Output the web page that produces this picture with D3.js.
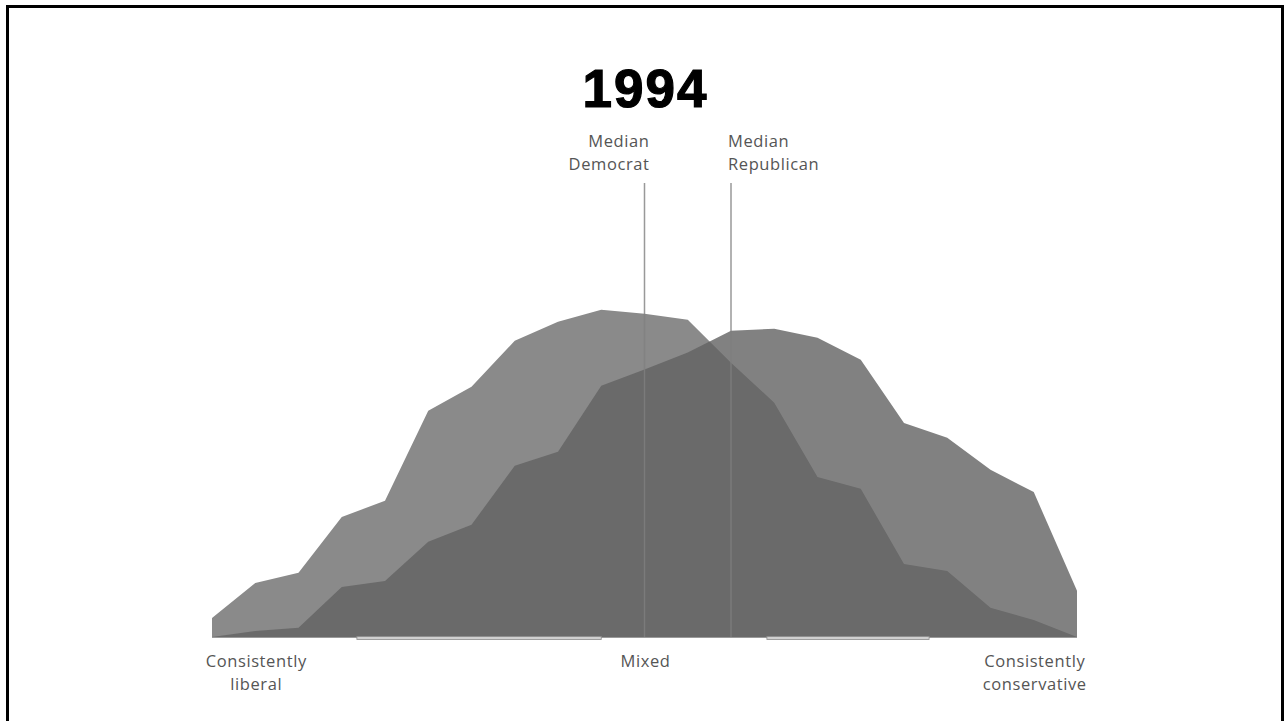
<!DOCTYPE html>
<html>
<head>
<meta charset="utf-8">
<script src="https://cdn.jsdelivr.net/npm/d3@7"></script>
<style>
  html, body { margin: 0; padding: 0; background: #fff; }
  svg { display: block; }
  .label { font-family: "Open Sans", "Liberation Sans", sans-serif; }
  .title { font-family: "Liberation Sans", Arial, sans-serif; font-weight: bold; }
</style>
</head>
<body>
<svg id="the-svg" width="1286" height="721"></svg>
<script>
// Ideological consistency scale, 21 steps from -10 (liberal) to +10 (conservative)
const SCALE_STEPS = d3.range(-10, 11);

// share of each party at each step (%)
const DEMOCRATS = [0.58, 1.65, 1.96, 3.67, 4.16, 6.91, 7.65, 9.05, 9.63, 10.0, 9.88,
                   9.69, 8.38, 7.16, 4.89, 4.53, 2.23, 2.02, 0.89, 0.52, 0];
const REPUBLICANS = [0, 0.18, 0.28, 1.53, 1.71, 2.91, 3.43, 5.23, 5.66, 7.68, 8.17,
                     8.69, 9.36, 9.42, 9.14, 8.47, 6.54, 6.09, 5.11, 4.43, 1.41];

// medians on the same scale
const MEDIAN_DEM = 0;
const MEDIAN_REP = 2;

// bracket ranges under the axis
const RANGES = [[-6.65, -1.0], [2.83, 6.58]];

const YEAR = '1994';

const AXIS_LABELS = [
  { at: -9, lines: ['Consistently', 'liberal'] },
  { at: 0, lines: ['Mixed'] },
  { at: 9, lines: ['Consistently', 'conservative'] }
];

window.addEventListener('load', plot);

function plot() {
  const svg = d3.select('#the-svg');

  const x = d3.scaleLinear().domain([-10, 10]).range([212, 1077]);
  const y = d3.scaleLinear().domain([0, 11]).range([637, 277]);

  //////////////////
  // Frame border //
  //////////////////

  svg.append('path')
    .attr('d', 'M7.5,730 V6.5 H1282.5 V730')
    .attr('fill', 'none')
    .attr('stroke', '#000')
    .attr('stroke-width', 3);

  ///////////
  // Areas //
  ///////////

  const area = d3.area()
    .x((d, i) => x(SCALE_STEPS[i]))
    .y0(y(0))
    .y1(d => y(d));

  svg.append('path')
    .datum(DEMOCRATS)
    .attr('d', area)
    .attr('fill', '#8a8a8a');

  svg.append('path')
    .datum(REPUBLICANS)
    .attr('d', area)
    .attr('fill', '#616161')
    .attr('fill-opacity', 0.8);

  //////////
  // Axis //
  //////////

  svg.append('line')
    .attr('x1', x(-10)).attr('x2', x(10))
    .attr('y1', y(0) + 0.5).attr('y2', y(0) + 0.5)
    .attr('stroke', '#9a9a9a')
    .attr('stroke-width', 1);

  svg.selectAll('rect.range')
    .data(RANGES)
    .enter()
    .append('rect')
      .attr('class', 'range')
      .attr('x', d => x(d[0]))
      .attr('width', d => x(d[1]) - x(d[0]))
      .attr('y', y(0) - 0.5)
      .attr('height', 3)
      .attr('fill', '#d0d0d0')
      .attr('stroke', '#8c8c8c')
      .attr('stroke-width', 0.8);

  const labels = svg.append('g')
    .selectAll('text')
    .data(AXIS_LABELS)
    .enter()
    .append('text')
      .attr('class', 'label')
      .attr('text-anchor', 'middle')
      .attr('font-size', 16.5)
      .attr('letter-spacing', 0.6)
      .attr('fill', '#555');

  labels.selectAll('tspan')
    .data(d => d.lines.map(l => ({ l, at: d.at })))
    .enter()
    .append('tspan')
      .attr('x', d => x(d.at) + 1)
      .attr('y', (d, i) => 667 + i * 23)
      .text(d => d.l);

  //////////////////
  // Median lines //
  //////////////////

  [MEDIAN_DEM, MEDIAN_REP].forEach(m => {
    svg.append('line')
      .attr('x1', x(m)).attr('x2', x(m))
      .attr('y1', 183).attr('y2', y(0))
      .attr('stroke', '#808080')
      .attr('stroke-opacity', 0.8)
      .attr('stroke-width', 1.5);
  });

  const medDem = svg.append('text')
    .attr('class', 'label')
    .attr('text-anchor', 'end')
    .attr('font-size', 16.5)
    .attr('letter-spacing', 0.6)
    .attr('fill', '#555');
  medDem.append('tspan').attr('x', x(MEDIAN_DEM) + 5).attr('y', 147).text('Median');
  medDem.append('tspan').attr('x', x(MEDIAN_DEM) + 5).attr('y', 170).text('Democrat');

  const medRep = svg.append('text')
    .attr('class', 'label')
    .attr('text-anchor', 'start')
    .attr('font-size', 16.5)
    .attr('letter-spacing', 0.6)
    .attr('fill', '#555');
  medRep.append('tspan').attr('x', x(MEDIAN_REP) - 3).attr('y', 147).text('Median');
  medRep.append('tspan').attr('x', x(MEDIAN_REP) - 3).attr('y', 170).text('Republican');

  ///////////
  // Title //
  ///////////

  svg.append('text')
    .attr('class', 'title')
    .attr('x', (x(-10) + x(10)) / 2 + 1)
    .attr('y', 107)
    .attr('text-anchor', 'middle')
    .attr('font-size', 53)
    .attr('letter-spacing', 2)
    .attr('stroke', '#000')
    .attr('stroke-width', 1.2)
    .attr('fill', '#000')
    .text(YEAR);
}
</script>
</body>
</html>
